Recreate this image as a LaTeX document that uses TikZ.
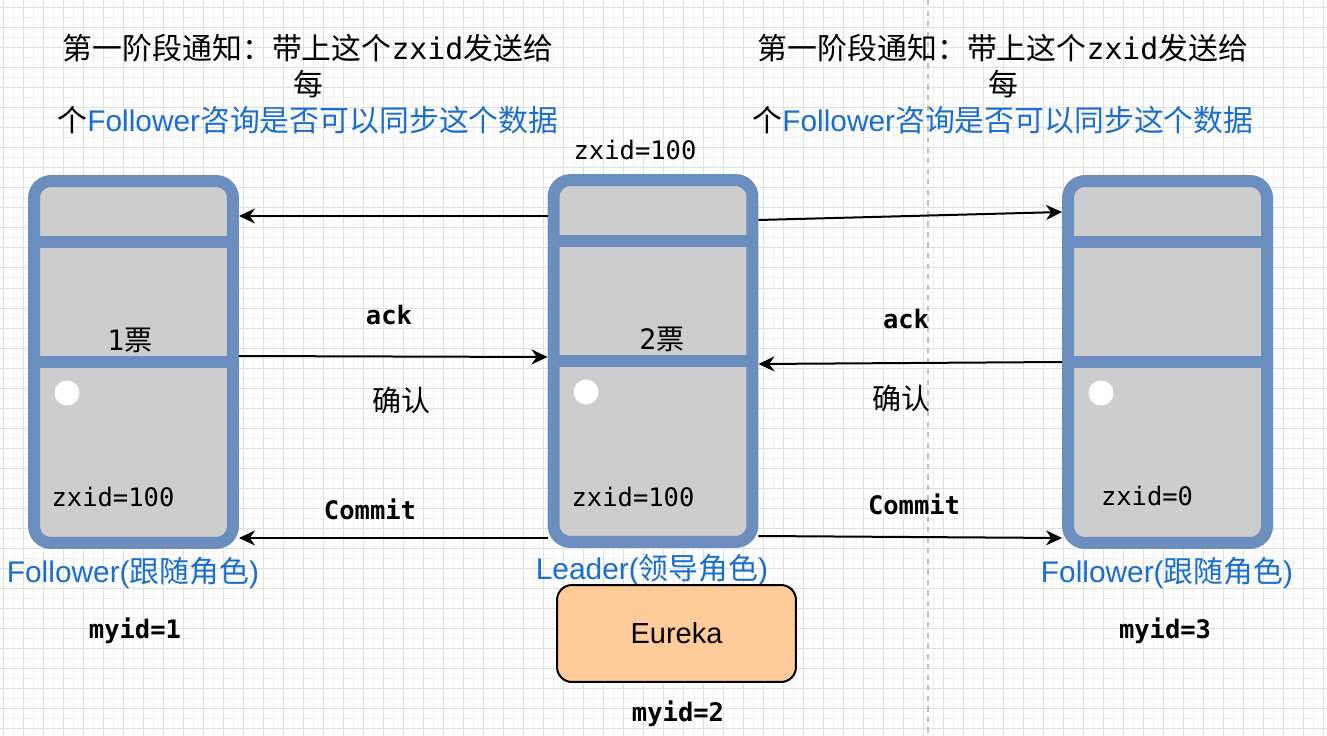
\documentclass[tikz,border=0pt]{standalone}
\usepackage{fontspec}
\setmainfont{Liberation Sans}
\newfontfamily\cjk{Noto Sans CJK SC}
\newfontfamily\mono{DejaVu Sans Mono}
\usepackage{xcolor}
\usetikzlibrary{arrows.meta,calc}
\definecolor{srvblue}{HTML}{6C8EBF}
\definecolor{srvgray}{HTML}{CDCDCD}
\definecolor{txtblue}{HTML}{1A6ECF}
\definecolor{eurekafill}{HTML}{FFCC99}
\tikzset{
  server/.style={draw=srvblue, fill=srvgray, line width=0.24cm, rounded corners=0.34cm,
    minimum width=3.98cm, minimum height=7.24cm, inner sep=0pt},
  divider/.style={srvblue, line width=0.24cm},
  hole/.style={circle, fill=white, minimum size=0.5cm, inner sep=0pt},
  msg/.style={-{Stealth[length=0.32cm, width=0.3cm]}, line width=0.04cm, black},
  monolbl/.style={font=\mono\fontsize{14.5}{16}\selectfont, inner sep=0pt},
  boldlbl/.style={font=\mono\bfseries\fontsize{14.5}{16}\selectfont, inner sep=0pt},
  cjklbl/.style={font=\cjk\fontsize{16.5}{18}\selectfont, inner sep=0pt},
  rolelbl/.style={font=\fontsize{17}{19}\selectfont, text=txtblue, inner sep=0pt},
  titlelbl/.style={font=\cjk\fontsize{17}{20.5}\selectfont, align=center, inner sep=0pt}
}

\begin{document}
\begin{tikzpicture}[x=0.02cm, y=-0.02cm]
    \useasboundingbox (0,0) rectangle (1327,736);
    \fill[white] (0,0) rectangle (1327,736);
    % background grid
    \foreach \gx in {3,13,...,1323} \draw[black!6, line width=0.02cm] (\gx,0) -- (\gx,736);
    \foreach \gy in {8,18,...,728} \draw[black!6, line width=0.02cm] (0,\gy) -- (1327,\gy);
    \foreach \gx in {3,23,...,1323} \draw[black!12, line width=0.02cm] (\gx,0) -- (\gx,736);
    \foreach \gy in {8,28,...,728} \draw[black!12, line width=0.02cm] (0,\gy) -- (1327,\gy);
    \draw[black!25, dashed, line width=0.03cm] (928,0) -- (928,736);

    % titles
    \node[titlelbl] (title1) at (308,84) {第一阶段通知：带上这个{\mono zxid}发送给\\每\\个\textcolor{txtblue}{{\rmfamily Follower}咨询是否可以同步这个数据}};
    \node[titlelbl] (title3) at (1003,84) {第一阶段通知：带上这个{\mono zxid}发送给\\每\\个\textcolor{txtblue}{{\rmfamily Follower}咨询是否可以同步这个数据}};

    % servers
    \node[server] (f1) at (133.5,362) {};
    \node[server] (ld) at (653,361) {};
    \node[server] (f3) at (1167.5,362) {};
    \draw[divider] ($(f1.north west)+(0,67)$) -- ($(f1.north east)+(0,67)$);
    \draw[divider] (f1.west) -- (f1.east);
    \draw[divider] ($(ld.north west)+(0,67)$) -- ($(ld.north east)+(0,67)$);
    \draw[divider] (ld.west) -- (ld.east);
    \draw[divider] ($(f3.north west)+(0,67)$) -- ($(f3.north east)+(0,67)$);
    \draw[divider] (f3.west) -- (f3.east);
    \node[hole] (h1) at (67,393) {};
    \node[hole] (h2) at (586,392) {};
    \node[hole] (h3) at (1101,393) {};

    % texts in and round the servers
    \node[monolbl] (zxtop) at (635,150) {zxid=100};
    \node[font=\fontsize{16}{18}\selectfont, inner sep=0pt] (vote1) at (130,340) {{\mono 1}{\cjk 票}};
    \node[font=\fontsize{16}{18}\selectfont, inner sep=0pt] (vote2) at (662,339) {{\mono 2}{\cjk 票}};
    \node[monolbl] (zx1) at (113,497) {zxid=100};
    \node[monolbl] (zx2) at (633,497) {zxid=100};
    \node[monolbl] (zx3) at (1147,496) {zxid=0};
    \node[rolelbl] (role1) at (133,573) {Follower({\cjk 跟随角色})};
    \node[rolelbl] (role2) at (652,570) {Leader({\cjk 领导角色})};
    \node[rolelbl] (role3) at (1167,573) {Follower({\cjk 跟随角色})};
    \node[boldlbl] (id1) at (135,631) {myid=1};
    \node[boldlbl] (id3) at (1165,631) {myid=3};
    \node[boldlbl] (id2) at (678,714) {myid=2};
    \node[draw=black, line width=0.04cm, fill=eurekafill, rounded corners=0.3cm,
      minimum width=4.78cm, minimum height=1.94cm, font=\fontsize{16.5}{18}\selectfont] (eureka) at (676.5,633.5) {Eureka};

    % messages
    \draw[msg] (ld.west |- 0,216) -- (f1.east |- 0,216);
    \draw[msg] (ld.east |- 0,220) -- (f3.west |- 0,212);
    \draw[msg] (f1.east |- 0,356) -- (ld.west |- 0,357);
    \draw[msg] (f3.west |- 0,362) -- (ld.east |- 0,364);
    \draw[msg] (ld.west |- 0,538) -- (f1.east |- 0,538);
    \draw[msg] (ld.east |- 0,536) -- (f3.west |- 0,538);
    \node[boldlbl] (ack1) at (389,315) {ack};
    \node[cjklbl] (ok1) at (401,400) {确认};
    \node[boldlbl] (commit1) at (370,509) {Commit};
    \node[boldlbl] (ack3) at (906,319) {ack};
    \node[cjklbl] (ok3) at (901,398) {确认};
    \node[boldlbl] (commit3) at (914,504) {Commit};
\end{tikzpicture}
\end{document}
